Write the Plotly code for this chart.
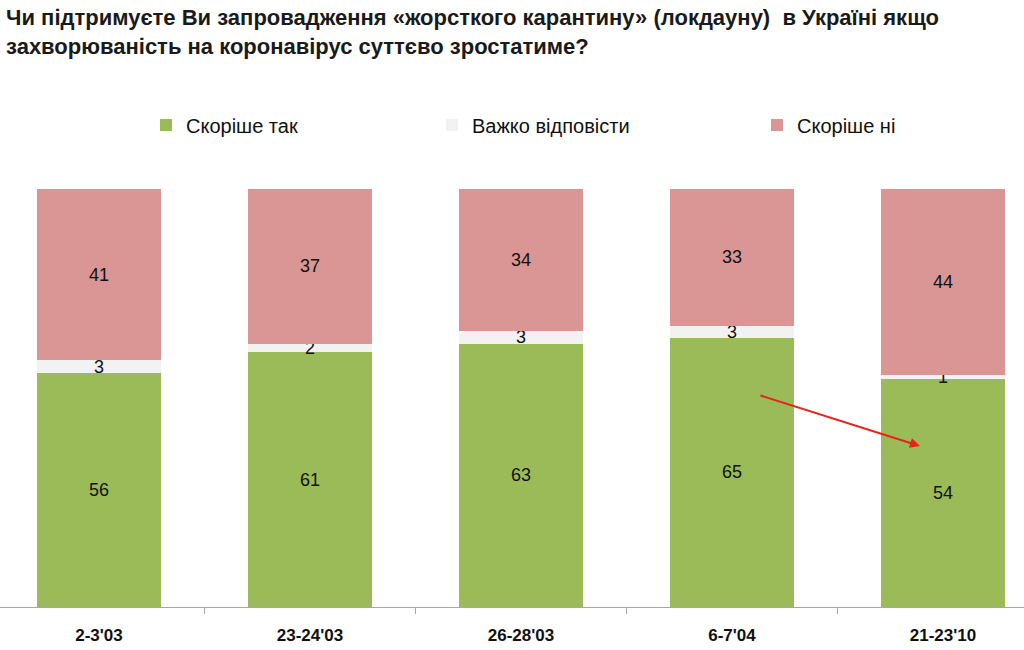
import plotly.graph_objects as go

categories = ["2-3'03", "23-24'03", "26-28'03", "6-7'04", "21-23'10"]
yes_vals = [56, 61, 63, 65, 54]
hard_vals = [3, 2, 3, 3, 1]
no_vals = [41, 37, 34, 33, 44]
series_names = ["Скоріше так", "Важко відповісти", "Скоріше ні"]
series_colors = ["#9bbb59", "#f2f2f2", "#d99694"]
title_text = ("Чи підтримуєте Ви запровадження «жорсткого карантину» (локдауну)  в Україні якщо"
              "<br>захворюваність на коронавірус суттєво зростатиме?")

NARROW = "Liberation Sans Narrow, Arial Narrow, Liberation Sans, Arial, sans-serif"
x_idx = list(range(len(categories)))

fig = go.Figure()
legend_ids = ["legend", "legend2", "legend3"]
for vals, name, color, lg in zip([yes_vals, hard_vals, no_vals], series_names, series_colors, legend_ids):
    fig.add_trace(go.Bar(
        x=x_idx, y=vals, name=name, marker=dict(color=color, line=dict(width=0)),
        width=0.588, text=[str(v) for v in vals], textposition="inside",
        insidetextanchor="middle", textangle=0,
        textfont=dict(family=NARROW, size=18, color="#111111"),
        legend=lg, hoverinfo="skip",
    ))

legend_x = [146, 432, 757]
legend_common = dict(orientation="h", yanchor="middle", y=1.153, xanchor="left",
                     bgcolor="rgba(0,0,0,0)", borderwidth=0,
                     font=dict(family=NARROW, size=20, color="#111111"))
fig.update_layout(
    barmode="stack", barnorm="percent",
    width=1024, height=650,
    margin=dict(l=0, r=0, t=189, b=43),
    paper_bgcolor="white", plot_bgcolor="white",
    legend=dict(x=legend_x[0] / 1024, **legend_common),
    legend2=dict(x=legend_x[1] / 1024, **legend_common),
    legend3=dict(x=legend_x[2] / 1024, **legend_common),
    uniformtext=dict(minsize=18, mode="show"),
    xaxis=dict(type="linear", range=[-0.469, 4.384], tickmode="array",
               tickvals=x_idx, ticktext=categories,
               showline=True, linecolor="#a6a6a6", linewidth=1,
               ticks="", showgrid=False, zeroline=False,
               tickfont=dict(family=NARROW, size=17, color="#111111", weight="bold"),
               ticklabelstandoff=13),
    yaxis=dict(range=[0, 100], visible=False),
    showlegend=True,
)

# tick marks at category boundaries
fig.update_xaxes(minor=dict(tickvals=[i + 0.5 for i in x_idx[:-1]], ticks="outside",
                            ticklen=6, tickcolor="#a6a6a6", tickwidth=1, showgrid=False))

# title as a left-aligned annotation
fig.add_annotation(text=title_text, xref="paper", yref="paper", x=0.004, y=(650 - 43 - 3) / 418,
                   xanchor="left", yanchor="top", align="left", showarrow=False,
                   font=dict(family="Liberation Sans, Arial, sans-serif", size=22,
                             color="#1a1a1a", weight="bold"))

fig.add_annotation(x=3.891, y=38.5, ax=3.128, ay=50.7, xref="x", yref="y",
                   axref="x", ayref="y", text="", showarrow=True,
                   arrowhead=2, arrowsize=1, arrowwidth=2, arrowcolor="#e8231a")

fig.write_html("out.html")
